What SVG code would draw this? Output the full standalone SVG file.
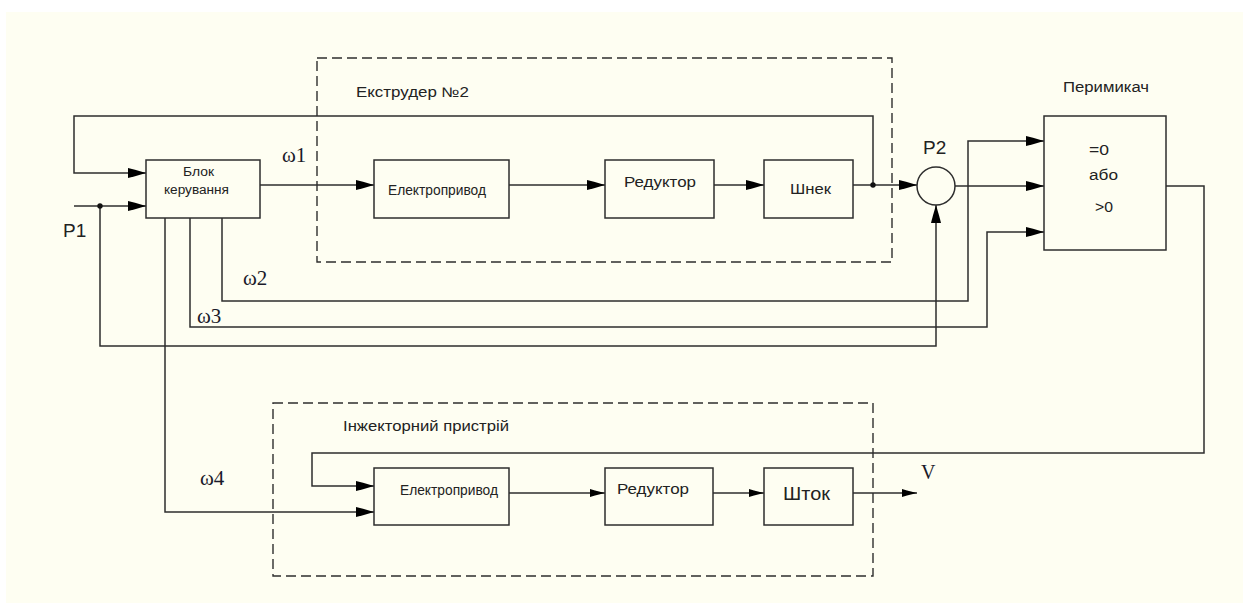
<svg xmlns="http://www.w3.org/2000/svg" width="1243" height="606" viewBox="0 0 1243 606">
  <defs>
    <style>
      .ln { fill: none; stroke: #2e2e2e; stroke-width: 1.5; }
      .box { fill: none; stroke: #2e2e2e; stroke-width: 1.5; }
      .dash { fill: none; stroke: #2e2e2e; stroke-width: 1.4; stroke-dasharray: 10 5; }
      .t { font-family: "Liberation Sans", Arial, sans-serif; fill: #222; }
      .s { font-family: "Liberation Serif", "Times New Roman", serif; fill: #1a1a2a; }
      .dot { fill: #111; }
      .a { marker-end: url(#arr); }
      .b { marker-end: url(#arrS); }
    </style>
    <marker id="arr" viewBox="0 0 18 10" refX="18" refY="5" markerWidth="18" markerHeight="10" markerUnits="userSpaceOnUse" orient="auto">
      <path d="M0,0 L7,1.8 L18,5 L7,8.2 L0,10 Z" fill="#000"/>
    </marker>
    <marker id="arrS" viewBox="0 0 15 8" refX="15" refY="4" markerWidth="15" markerHeight="8" markerUnits="userSpaceOnUse" orient="auto">
      <path d="M0,0 L5,1.4 L15,4 L5,6.6 L0,8 Z" fill="#000"/>
    </marker>
  </defs>

  <!-- sheet -->
  <rect x="0" y="0" width="1243" height="606" fill="#ffffff"/>
  <rect x="6" y="12" width="1237" height="591" fill="#fefef2"/>

  <!-- subsystem frames -->
  <g id="extruder-frame">
    <rect class="dash" x="317" y="58" width="575" height="204"/>
    <text class="t" x="356" y="97" font-size="14" textLength="113" lengthAdjust="spacingAndGlyphs">Екструдер №2</text>
  </g>
  <g id="injector-frame">
    <rect class="dash" x="273" y="403" width="600" height="173"/>
    <text class="t" x="343" y="431" font-size="14" textLength="166" lengthAdjust="spacingAndGlyphs">Інжекторний пристрій</text>
  </g>

  <!-- connectors -->
  <g id="connectors">
    <path class="ln a" d="M873,185 V116 H74 V173 H146"/>
    <path class="ln a" d="M74,206 H146"/>
    <path class="ln a" d="M100,206 V346 H936 V205"/>
    <path class="ln a" d="M260,185 H374"/>
    <path class="ln a" d="M509,185 H605"/>
    <path class="ln a" d="M714,185 H764"/>
    <path class="ln a" d="M853,185 H917"/>
    <path class="ln a" d="M955,186 H1044"/>
    <path class="ln a" d="M222,218 V301 H968 V141 H1044"/>
    <path class="ln a" d="M190,218 V327 H987 V232 H1044"/>
    <path class="ln a" d="M165,218 V512 H374"/>
    <path class="ln a" d="M1166,186 H1204 V453 H312 V486 H374"/>
    <path class="ln b" d="M509,493 H605"/>
    <path class="ln b" d="M713,493 H764"/>
    <path class="ln b" d="M853,493 H917"/>
    <circle class="dot" cx="100" cy="206" r="2.7"/>
    <circle class="dot" cx="873" cy="185" r="2.7"/>
  </g>

  <!-- signal labels -->
  <g id="labels">
    <text class="t" x="63" y="237" font-size="19">P1</text>
    <text class="t" x="923" y="154" font-size="19">P2</text>
    <text class="s" x="282" y="162" font-size="21">ω1</text>
    <text class="s" x="243" y="285" font-size="21">ω2</text>
    <text class="s" x="197" y="323" font-size="21">ω3</text>
    <text class="s" x="200" y="485" font-size="21">ω4</text>
    <text class="s" x="921" y="479" font-size="20">V</text>
  </g>

  <g id="control-unit">
    <rect class="box" x="146" y="160" width="114" height="58"/>
    <text class="t" x="183" y="176" font-size="12" textLength="31" lengthAdjust="spacingAndGlyphs">Блок</text>
    <text class="t" x="164" y="194" font-size="12" textLength="65" lengthAdjust="spacingAndGlyphs">керування</text>
  </g>

  <g id="drive-1">
    <rect class="box" x="374" y="160" width="135" height="58"/>
    <text class="t" x="388" y="195" font-size="14" textLength="98" lengthAdjust="spacingAndGlyphs">Електропривод</text>
  </g>
  <g id="gearbox-1">
    <rect class="box" x="605" y="160" width="109" height="58"/>
    <text class="t" x="624" y="187" font-size="15" textLength="72" lengthAdjust="spacingAndGlyphs">Редуктор</text>
  </g>
  <g id="screw">
    <rect class="box" x="764" y="160" width="89" height="58"/>
    <text class="t" x="790" y="194" font-size="15" textLength="41" lengthAdjust="spacingAndGlyphs">Шнек</text>
  </g>

  <g id="summing-node">
    <circle class="box" cx="936" cy="186" r="19"/>
  </g>

  <g id="switch">
    <rect class="box" x="1044" y="116" width="122" height="134"/>
    <text class="t" x="1063" y="92" font-size="14" textLength="86" lengthAdjust="spacingAndGlyphs">Перимикач</text>
    <text class="t" x="1089" y="155" font-size="14" textLength="20" lengthAdjust="spacingAndGlyphs">=0</text>
    <text class="t" x="1089" y="180" font-size="14" textLength="29" lengthAdjust="spacingAndGlyphs">або</text>
    <text class="t" x="1095" y="212" font-size="14" textLength="18" lengthAdjust="spacingAndGlyphs">&gt;0</text>
  </g>

  <g id="drive-2">
    <rect class="box" x="374" y="468" width="135" height="57"/>
    <text class="t" x="400" y="495" font-size="14" textLength="98" lengthAdjust="spacingAndGlyphs">Електропривод</text>
  </g>
  <g id="gearbox-2">
    <rect class="box" x="605" y="468" width="108" height="57"/>
    <text class="t" x="617" y="494" font-size="15" textLength="72" lengthAdjust="spacingAndGlyphs">Редуктор</text>
  </g>
  <g id="rod">
    <rect class="box" x="764" y="468" width="89" height="57"/>
    <text class="t" x="783" y="500" font-size="18" textLength="47" lengthAdjust="spacingAndGlyphs">Шток</text>
  </g>
</svg>
